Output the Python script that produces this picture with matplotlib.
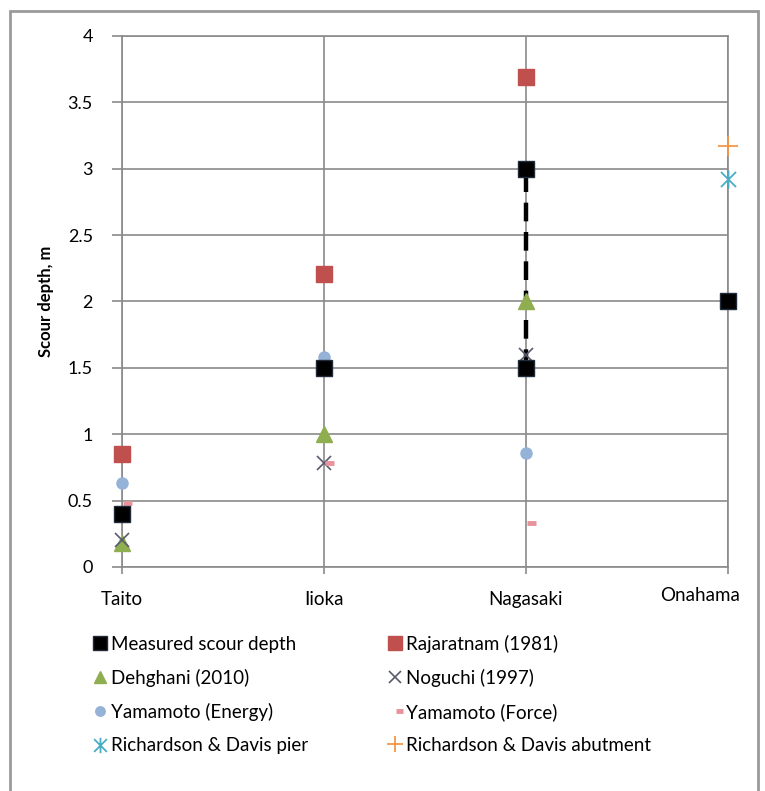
import numpy as np
import matplotlib

matplotlib.use("Agg")
import matplotlib.pyplot as plt
from matplotlib.path import Path
from matplotlib.patches import Rectangle
from matplotlib.transforms import ScaledTranslation

# ================= data =================
sites = ["Taito", "Iioka", "Nagasaki", "Onahama"]
site_x = [0, 1, 2, 3]

measured_x = [0, 1, 2, 2, 3]
measured_y = [0.4, 1.5, 1.5, 3.0, 2.0]

rajaratnam_x = [0, 1, 2]
rajaratnam_y = [0.85, 2.21, 3.69]

dehghani_x = [0, 1, 2]
dehghani_y = [0.18, 1.0, 2.0]

noguchi_x = [0, 1, 2]
noguchi_y = [0.2, 0.78, 1.6]

yam_energy_x = [0, 1, 2]
yam_energy_y = [0.63, 1.58, 0.86]

yam_force_x = [0, 1, 2]
yam_force_y = [0.48, 0.78, 0.33]

rd_pier_x = [3]
rd_pier_y = [2.92]

rd_abut_x = [3]
rd_abut_y = [3.17]

y_ticks = [0, 0.5, 1, 1.5, 2, 2.5, 3, 3.5, 4]
y_ticklabels = ["0", "0.5", "1", "1.5", "2", "2.5", "3", "3.5", "4"]

# ================= style =================
plt.rcParams.update({
    "font.family": ["Lato", "DejaVu Sans"],
    "font.size": 13,
})

GRID = "#8a8a8a"

# marker shapes
dash_right = Path([(0.1, 0.0), (1.0, 0.0)], [Path.MOVETO, Path.LINETO])
star_path = Path(
    [(-1, -1), (1, 1), (-1, 1), (1, -1), (0, -1.2), (0, 1.2)],
    [Path.MOVETO, Path.LINETO, Path.MOVETO, Path.LINETO, Path.MOVETO, Path.LINETO],
)

fig = plt.figure(figsize=(7.65, 7.91), dpi=100)
ax = fig.add_axes([0.1595, 0.2832, 0.7921, 0.6713])

# outer chart border
fig.patches.append(Rectangle((10 / 765, -0.01), 748 / 765, 1 - 11 / 791 + 0.01,
                             transform=fig.transFigure, fill=False,
                             edgecolor="#9a9a9a", lw=2.0))

# grid
for yv in y_ticks:
    ax.axhline(yv, color=GRID, lw=1.2, zorder=1)
for xv in site_x:
    ax.axvline(xv, color=GRID, lw=1.2, zorder=1)

# dashed link between the two measured Nagasaki values
nag = [i for i, xv in enumerate(measured_x) if xv == 2]
ax.plot([measured_x[i] for i in nag], [measured_y[i] for i in nag],
        color="black", lw=3.2, ls=(0, (4.2, 2.4)), zorder=2)

common = dict(ls="none", clip_on=False)
h = []
h.append(ax.plot(measured_x, measured_y, marker="s", ms=11.5,
                 mfc="black", mec="#1f2a3a", mew=1.0, zorder=5,
                 label="Measured scour depth", **common)[0])
h.append(ax.plot(rajaratnam_x, rajaratnam_y, marker="s", ms=11.5,
                 mfc="#c0504d", mec="#c0504d", zorder=4,
                 label="Rajaratnam (1981)", **common)[0])
h.append(ax.plot(dehghani_x, dehghani_y, marker="^", ms=11,
                 mfc="#8fae4f", mec="#8fae4f", zorder=4,
                 label="Dehghani (2010)", **common)[0])
h.append(ax.plot(noguchi_x, noguchi_y, marker="x", ms=10,
                 mec="#5a5a6e", mew=1.2, zorder=4,
                 label="Noguchi (1997)", **common)[0])
h.append(ax.plot(yam_energy_x, yam_energy_y, marker="o", ms=8,
                 mfc="#95b3d7", mec="#95b3d7", zorder=4,
                 label="Yamamoto (Energy)", **common)[0])
h.append(ax.plot(yam_force_x, yam_force_y, marker=dash_right, ms=14,
                 mec="#e6939b", mew=3.5, zorder=4,
                 label="Yamamoto (Force)", **common)[0])
h.append(ax.plot(rd_pier_x, rd_pier_y, marker=star_path, ms=13,
                 mec="#4bacc6", mew=1.3, zorder=4,
                 label="Richardson & Davis pier", **common)[0])
h.append(ax.plot(rd_abut_x, rd_abut_y, marker="+", ms=14,
                 mec="#f79646", mew=1.3, zorder=4,
                 label="Richardson & Davis abutment", **common)[0])

ax.set_xlim(0, 3)
ax.set_ylim(0, 4)
ax.set_yticks(y_ticks)
ax.set_yticklabels(y_ticklabels)
ax.set_xticks(site_x)
ax.set_xticklabels(sites)
ax.tick_params(axis="y", length=7, width=1.2, color=GRID, pad=14, labelsize=13)
ax.tick_params(axis="x", length=5, width=1.2, color=GRID, pad=12, labelsize=13.5)
# Onahama label sits a bit left/up as in the original
lbls = ax.get_xticklabels()
lbls[-1].set_transform(lbls[-1].get_transform()
                       + ScaledTranslation(-0.28, 0.04, fig.dpi_scale_trans))

for s in ax.spines.values():
    s.set_color(GRID)
    s.set_linewidth(1.2)

ax.set_ylabel("Scour depth, m", fontsize=12, fontweight="bold", labelpad=10)

# legend is read row by row: reorder for matplotlib's column-wise filling
order = [0, 2, 4, 6, 1, 3, 5, 7]
fig.legend(handles=[h[i] for i in order], loc="upper left",
           bbox_to_anchor=(85 / 765, 1 - 627 / 791),
           ncol=2, frameon=False, fontsize=13.5, handlelength=0.8,
           handletextpad=0.2, columnspacing=4.2, labelspacing=0.86,
           markerscale=0.85, borderaxespad=0)

fig.savefig("out.png", dpi=100)
